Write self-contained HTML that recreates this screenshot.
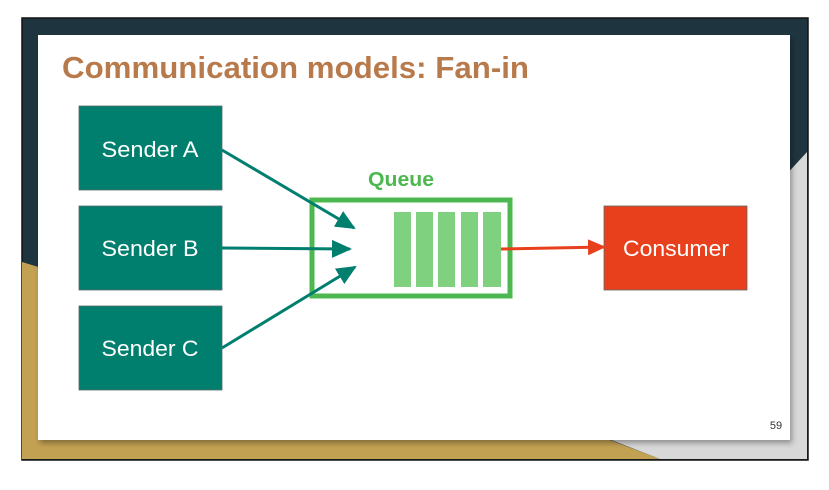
<!DOCTYPE html>
<html><head><style>
body{margin:0;width:829px;height:485px;background:#fff;overflow:hidden;font-family:"Liberation Sans",sans-serif}
</style></head><body>
<svg width="829" height="485" viewBox="0 0 829 485" xmlns="http://www.w3.org/2000/svg">
<defs>
<marker id="ta" markerWidth="20" markerHeight="18" refX="18" refY="9" orient="auto" markerUnits="userSpaceOnUse" viewBox="0 0 20 18"><path d="M0,0 L20,9 L0,18 z" fill="#007f6e"/></marker>
<marker id="ra" markerWidth="18" markerHeight="16" refX="16" refY="8" orient="auto" markerUnits="userSpaceOnUse" viewBox="0 0 18 16"><path d="M0,0 L18,8 L0,16 z" fill="#e8401c"/></marker>
<filter id="sh" x="-5%" y="-5%" width="110%" height="110%"><feDropShadow dx="2" dy="3" stdDeviation="3" flood-opacity="0.35"/></filter>
</defs>
<rect x="22" y="18" width="786" height="442" fill="#1e3540" stroke="#111" stroke-width="1.5"/>
<polygon points="22,262 610,440 660,459 22,459" fill="#c3a152"/>
<polygon points="807,152 807,459 660,459 560,420" fill="#d8d8d8"/>
<rect x="38" y="35" width="752" height="405" fill="#fff" filter="url(#sh)"/>
<text x="62" y="78" font-size="31" font-weight="bold" fill="#b87a4b" textLength="467" lengthAdjust="spacingAndGlyphs">Communication models: Fan-in</text>
<g fill="#007f6e" stroke="#5a6a6a" stroke-width="0.8">
<rect x="79" y="106" width="143" height="84"/>
<rect x="79" y="206" width="143" height="84"/>
<rect x="79" y="306" width="143" height="84"/>
</g>
<g fill="#fff" font-size="22" text-anchor="middle">
<text x="150" y="157" textLength="97" lengthAdjust="spacingAndGlyphs">Sender A</text>
<text x="150" y="256" textLength="97" lengthAdjust="spacingAndGlyphs">Sender B</text>
<text x="150" y="356" textLength="97" lengthAdjust="spacingAndGlyphs">Sender C</text>
</g>
<rect x="604" y="206" width="143" height="84" fill="#e8401c" stroke="#5a6a6a" stroke-width="0.8"/>
<text x="676" y="256" fill="#fff" font-size="22" text-anchor="middle" textLength="106" lengthAdjust="spacingAndGlyphs">Consumer</text>
<text x="401" y="186" fill="#4cb84f" font-size="20" font-weight="bold" text-anchor="middle" textLength="66" lengthAdjust="spacingAndGlyphs">Queue</text>
<rect x="312" y="200" width="198" height="96" fill="none" stroke="#4cb84f" stroke-width="5"/>
<g fill="#7fd07f">
<rect x="394" y="212" width="17" height="75"/>
<rect x="416" y="212" width="17" height="75"/>
<rect x="438" y="212" width="17" height="75"/>
<rect x="461" y="212" width="17" height="75"/>
<rect x="483" y="212" width="18" height="75"/>
</g>
<g stroke="#007f6e" stroke-width="3">
<line x1="222" y1="150" x2="354" y2="228" marker-end="url(#ta)"/>
<line x1="222" y1="248" x2="350" y2="249" marker-end="url(#ta)"/>
<line x1="222" y1="348" x2="355" y2="267" marker-end="url(#ta)"/>
</g>
<line x1="501" y1="249" x2="604" y2="247" stroke="#e8401c" stroke-width="3" marker-end="url(#ra)"/>
<text x="776" y="429" font-size="11" fill="#333" text-anchor="middle">59</text>
</svg>
</body></html>
